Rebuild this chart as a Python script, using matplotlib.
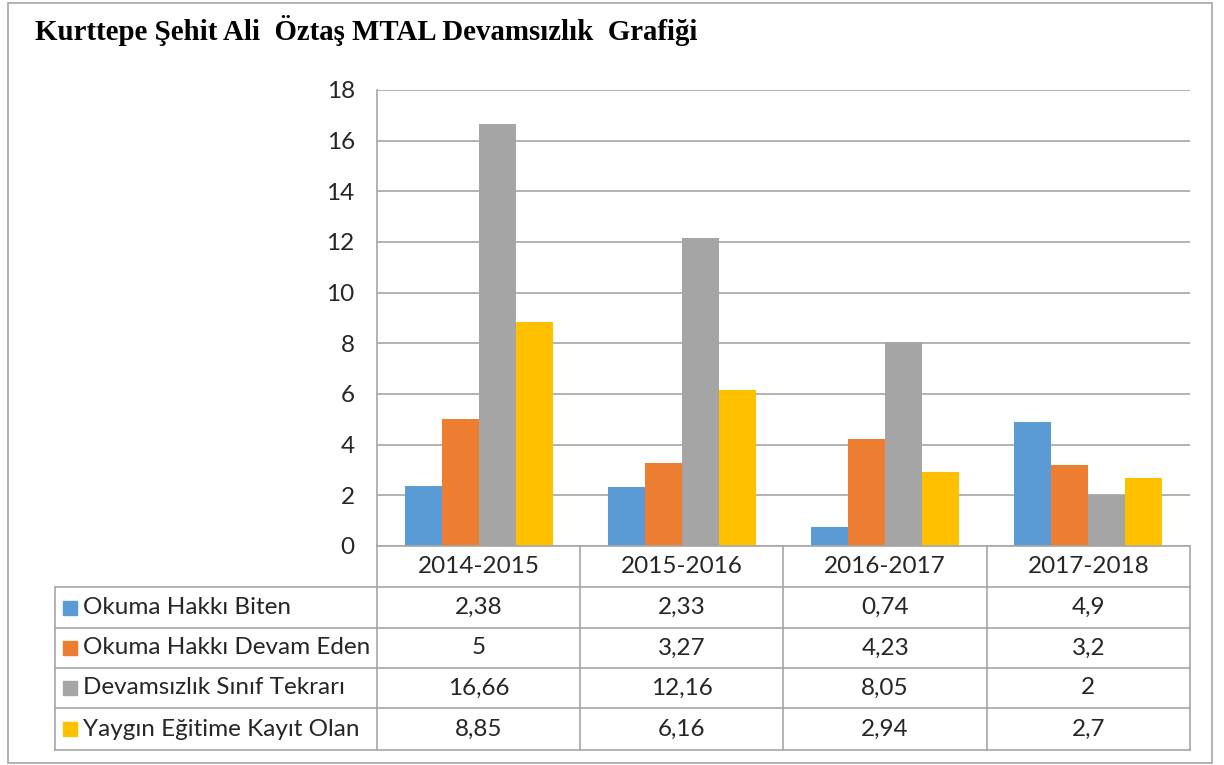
import matplotlib
matplotlib.use("Agg")
import matplotlib.pyplot as plt
from matplotlib.patches import Rectangle
from matplotlib.lines import Line2D

categories = ["2014-2015", "2015-2016", "2016-2017", "2017-2018"]
series_names = ["Okuma Hakkı Biten", "Okuma Hakkı Devam Eden",
                "Devamsızlık Sınıf Tekrarı", "Yaygın Eğitime Kayıt Olan"]
okuma_biten = [2.38, 2.33, 0.74, 4.9]
okuma_devam = [5, 3.27, 4.23, 3.2]
sinif_tekrari = [16.66, 12.16, 8.05, 2]
yaygin_egitim = [8.85, 6.16, 2.94, 2.7]
value_labels = [["2,38", "2,33", "0,74", "4,9"],
                ["5", "3,27", "4,23", "3,2"],
                ["16,66", "12,16", "8,05", "2"],
                ["8,85", "6,16", "2,94", "2,7"]]
colors = ["#5B9BD5", "#ED7D31", "#A5A5A5", "#FFC000"]
title = "Kurttepe Şehit Ali  Öztaş MTAL Devamsızlık  Grafiği"

W, H = 1224, 765
fig = plt.figure(figsize=(W / 100, H / 100), dpi=100)
plt.rcParams['font.family'] = ['Lato', 'DejaVu Sans']

def fx(px):
    return px / W

def fy(py):
    return 1 - py / H

grid_c = "#A6A6A6"
txt_c = "#262626"
fs = 17.5

# chart border
fig.patches.append(Rectangle((fx(8), fy(763)), fx(1212) - fx(8), fy(3) - fy(763),
                             transform=fig.transFigure, fill=False,
                             edgecolor="#A6A6A6", linewidth=1.2))

fig.text(fx(35), fy(30), title, fontsize=20.8, fontweight="bold",
         family="Liberation Serif", va="center", ha="left")

L, R, T, B = 377, 1190, 90, 546
ax = fig.add_axes([fx(L), fy(B), fx(R) - fx(L), fy(T) - fy(B)])
series = [okuma_biten, okuma_devam, sinif_tekrari, yaygin_egitim]
n = len(series)
bw = 0.182
for i, vals in enumerate(series):
    xs = [j + (i - (n - 1) / 2) * bw for j in range(len(categories))]
    ax.bar(xs, vals, width=bw, color=colors[i], zorder=3)
ax.set_xlim(-0.5, len(categories) - 0.5)
ax.set_ylim(0, 18)
ax.set_yticks(range(0, 19, 2))
ax.yaxis.grid(True, color=grid_c, linewidth=1.2, zorder=0)
ax.set_xticks([])
ax.tick_params(axis="y", length=0, labelsize=fs, pad=16, labelcolor=txt_c)
for s in ["top", "right", "bottom"]:
    ax.spines[s].set_visible(False)
ax.spines["left"].set_color(grid_c)
ax.spines["left"].set_linewidth(1.2)

# data table
rows_y = [546, 587, 628, 668, 708, 750]
col_x = [L + (R - L) * k / len(categories) for k in range(len(categories) + 1)]
lw = 1.2
def hline(x0, x1, y):
    fig.add_artist(Line2D([fx(x0), fx(x1)], [fy(y), fy(y)], color=grid_c, linewidth=lw))
def vline(x, y0, y1):
    fig.add_artist(Line2D([fx(x), fx(x)], [fy(y0), fy(y1)], color=grid_c, linewidth=lw))

hline(L, R, rows_y[0])
for y in rows_y[1:]:
    hline(55, R, y)
for x in col_x:
    vline(x, rows_y[0], rows_y[-1])
vline(55, rows_y[1], rows_y[-1])

for k, c in enumerate(categories):
    fig.text(fx((col_x[k] + col_x[k + 1]) / 2), fy((rows_y[0] + rows_y[1]) / 2), c,
             ha="center", va="center", fontsize=fs, color=txt_c)
for i, name in enumerate(series_names):
    yc = (rows_y[i + 1] + rows_y[i + 2]) / 2
    fig.patches.append(Rectangle((fx(63), fy(yc + 7)), fx(14), 14 / H,
                                 transform=fig.transFigure, color=colors[i]))
    fig.text(fx(83), fy(yc), name, ha="left", va="center", fontsize=fs, color=txt_c)
    for k in range(len(categories)):
        fig.text(fx((col_x[k] + col_x[k + 1]) / 2), fy(yc), value_labels[i][k],
                 ha="center", va="center", fontsize=fs, color=txt_c)

fig.savefig("out.png", dpi=100)
